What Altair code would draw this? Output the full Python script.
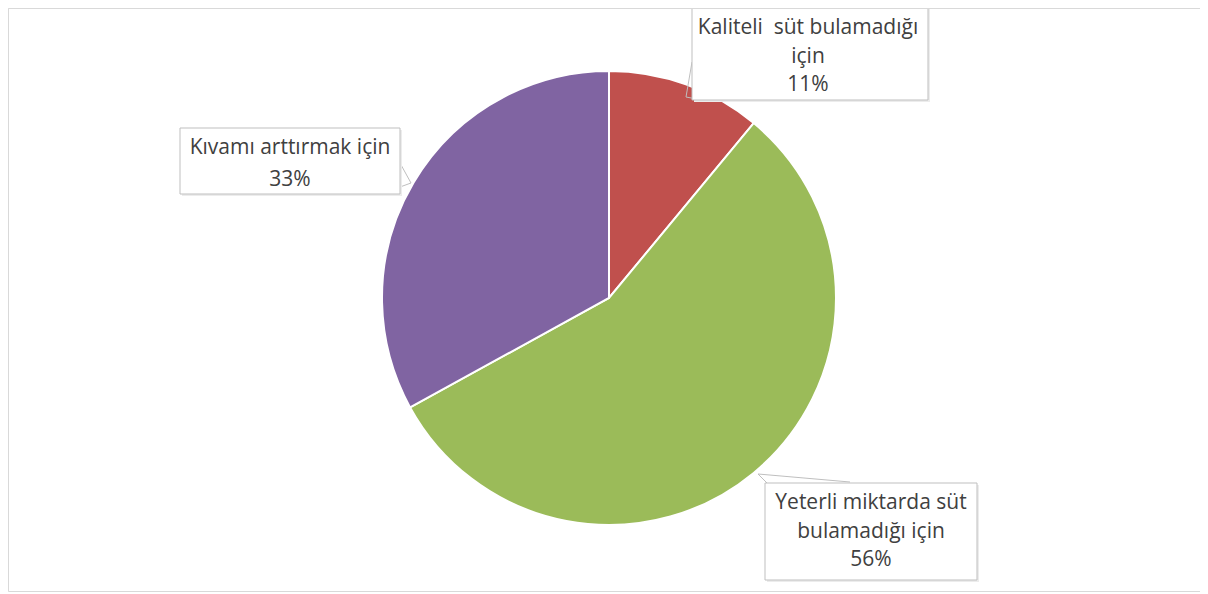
import altair as alt
import pandas as pd

# ---- data ----
categories = [
    "Kaliteli süt bulamadığı için",
    "Yeterli miktarda süt bulamadığı için",
    "Kıvamı arttırmak için",
]
values = [11, 56, 33]
colors = ["#C0504D", "#9BBB59", "#8064A2"]
label_text_lines = [
    ["Kaliteli\u00a0 süt bulamadığı", "için"],
    ["Yeterli miktarda süt", "bulamadığı için"],
    ["Kıvamı arttırmak için"],
]

# ---- layout (pixels, chart coordinates = page - (7, 3)) ----
W, H = 1201, 591
CX, CY, R = 602, 295, 227
boxes = [  # x, x2, y, y2, text centre x, first line y, line step
    (685, 921, 0, 97, 801, 25, 28.5),
    (758, 970, 480, 577, 864, 500, 28.5),
    (173, 393, 125, 191, 283, 145, 32),
]
tails = [  # polyline segments x, y, x2, y2
    (685, 59, 679, 94), (679, 94, 695, 97),
    (751, 471, 760, 480), (751, 471, 843, 479),
    (393, 160, 404, 180), (404, 180, 393, 184),
]

df = pd.DataFrame({"category": categories, "value": values, "order": list(range(len(values)))})

pie = alt.Chart(df).mark_arc(outerRadius=R, stroke="white", strokeWidth=2).encode(
    theta=alt.Theta("value:Q", stack=True),
    color=alt.Color("category:N", scale=alt.Scale(domain=categories, range=colors), legend=None),
    order=alt.Order("order:Q"),
    x=alt.value(CX),
    y=alt.value(CY),
)

box_rows, line_rows = [], []
for i, (x, x2, y, y2, tx, ty, step) in enumerate(boxes):
    box_rows.append({"x": x, "x2": x2, "y": y, "y2": y2})
    lines = label_text_lines[i] + [f"{values[i]}%"]
    for j, t in enumerate(lines):
        line_rows.append({"x": tx, "y": ty + j * step, "text": t})
box_df = pd.DataFrame(box_rows)
line_df = pd.DataFrame(line_rows)
tail_df = pd.DataFrame(tails, columns=["x", "y", "x2", "y2"])

frame = alt.Chart(pd.DataFrame({"a": [0]})).mark_rect(
    fill="white", stroke="#d9d9d9", strokeWidth=1
).encode(x=alt.value(1.5), x2=alt.value(W - 1.5), y=alt.value(5.5), y2=alt.value(H - 2.5))

shadow = alt.Chart(box_df).mark_rect(fill="#ececec").encode(
    x=alt.X("x:Q", scale=None), x2="x2:Q",
    y=alt.Y("y:Q", scale=None), y2="y2:Q",
).transform_calculate(x="datum.x + 2", x2="datum.x2 + 2", y="datum.y + 2", y2="datum.y2 + 2")

box = alt.Chart(box_df).mark_rect(fill="white", stroke="#bfbfbf", strokeWidth=1).encode(
    x=alt.X("x:Q", scale=None), x2="x2:Q",
    y=alt.Y("y:Q", scale=None), y2="y2:Q",
)

tail = alt.Chart(tail_df).mark_rule(color="#bfbfbf", strokeWidth=1).encode(
    x=alt.X("x:Q", scale=None), x2="x2:Q",
    y=alt.Y("y:Q", scale=None), y2="y2:Q",
)

top_edge = alt.Chart(pd.DataFrame({"a": [0]})).mark_rule(color="#d9d9d9", strokeWidth=1).encode(
    x=alt.value(1.5), x2=alt.value(W - 1.5), y=alt.value(5.5)
)

text = alt.Chart(line_df).mark_text(
    font="Open Sans", fontSize=21, color="#404040", align="center", baseline="middle"
).encode(
    x=alt.X("x:Q", scale=None), y=alt.Y("y:Q", scale=None), text="text:N"
)

chart = alt.layer(frame, pie, tail, shadow, box, top_edge, text).properties(
    width=W, height=H,
    autosize=alt.AutoSizeParams(type="none"),
    padding={"left": -1, "top": -5, "right": -8, "bottom": 0},
).configure_view(stroke=None)

chart.save("out.html", embed_options={"renderer": "svg", "actions": False})
